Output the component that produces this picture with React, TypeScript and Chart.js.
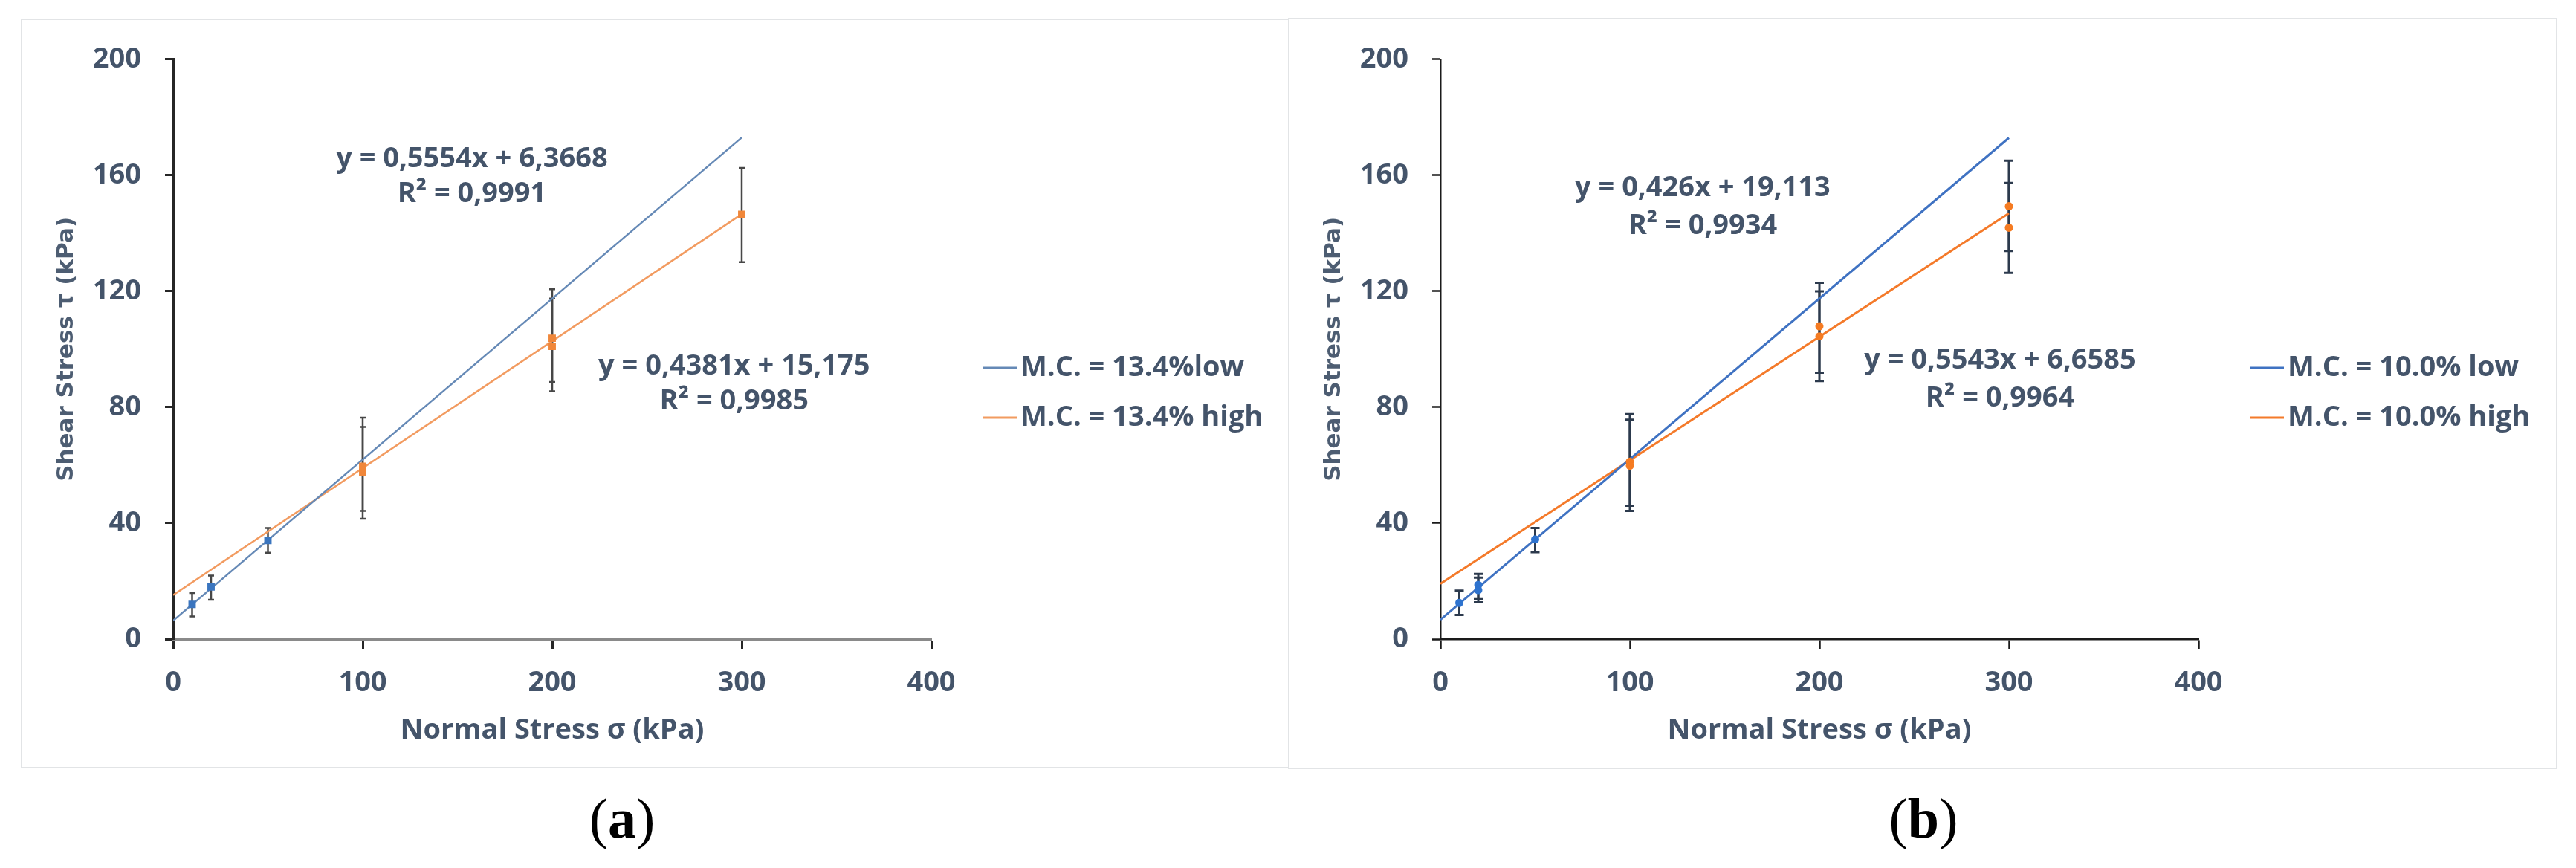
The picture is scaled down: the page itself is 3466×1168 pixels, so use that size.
import React, { useEffect, useRef } from 'react';
import { Chart, registerables } from 'chart.js';

Chart.register(...registerables);

// ---------------- Panel (a) data : M.C. = 13.4% ----------------
const A_LOW_NAME = 'M.C. = 13.4%low';
const A_HIGH_NAME = 'M.C. = 13.4% high';
const A_LOW_X = [10, 20, 50];
const A_LOW_Y = [12.0, 18.0, 34.0];
const A_LOW_MIN = [7.8, 13.6, 29.8];
const A_LOW_MAX = [15.9, 21.9, 38.3];
const A_HIGH_X = [100, 100, 200, 200, 300];
const A_HIGH_Y = [59.6, 57.4, 103.8, 101.0, 146.5];
const A_HIGH_MIN = [44.2, 41.5, 88.7, 85.5, 130.0];
const A_HIGH_MAX = [76.4, 73.2, 120.7, 117.5, 162.5];
const A_LOW_TREND_X = [0, 300];
const A_LOW_TREND_Y = [6.4, 173.0];
const A_HIGH_TREND_X = [0, 300];
const A_HIGH_TREND_Y = [15.2, 146.6];
const A_EQUATIONS = ['y = 0,5554x + 6,3668', 'y = 0,4381x + 15,175'];
const A_R2 = ['R² = 0,9991', 'R² = 0,9985'];

// ---------------- Panel (b) data : M.C. = 10.0% ----------------
const B_LOW_NAME = 'M.C. = 10.0% low';
const B_HIGH_NAME = 'M.C. = 10.0% high';
const B_LOW_X = [10, 20, 20, 50];
const B_LOW_Y = [12.5, 18.7, 16.9, 34.4];
const B_LOW_MIN = [8.3, 13.8, 12.7, 30.0];
const B_LOW_MAX = [16.7, 22.5, 21.2, 38.3];
const B_HIGH_X = [100, 100, 200, 200, 300, 300];
const B_HIGH_Y = [61.2, 59.8, 107.9, 104.4, 149.3, 141.9];
const B_HIGH_MIN = [46.0, 44.2, 91.9, 89.0, 133.9, 126.3];
const B_HIGH_MAX = [77.6, 75.7, 122.9, 120.0, 165.0, 157.3];
const B_LOW_TREND_X = [0, 300];
const B_LOW_TREND_Y = [6.7, 172.9];
const B_HIGH_TREND_X = [0, 300];
const B_HIGH_TREND_Y = [19.1, 146.9];
const B_EQUATIONS = ['y = 0,426x + 19,113', 'y = 0,5543x + 6,6585'];
const B_R2 = ['R² = 0,9934', 'R² = 0,9964'];

// axes
const X_TITLE = 'Normal Stress σ (kPa)';
const Y_TITLE = 'Shear Stress τ (kPa)';
const X_MIN = 0, X_MAX = 400, X_STEP = 100;
const Y_MIN = 0, Y_MAX = 200, Y_STEP = 40;

const TEXT = '#44546A';
const FONT = "'Open Sans', 'Noto Sans', sans-serif";
const FSIZE = 38;

const CW = 1706;
const CH = 1008;

const pts = (xs: number[], ys: number[], mins?: number[], maxs?: number[]) =>
  xs.map((x, i) => ({ x, y: ys[i], yMin: mins ? mins[i] : undefined, yMax: maxs ? maxs[i] : undefined }));

const errorBarPlugin = {
  id: 'errorBars',
  beforeDatasetsDraw(chart: any, _a: any, opts: any) {
    const { ctx } = chart;
    const xs = chart.scales.x;
    const ys = chart.scales.y;
    ctx.save();
    ctx.strokeStyle = opts.color;
    ctx.lineWidth = opts.width;
    ctx.lineCap = 'butt';
    chart.data.datasets.forEach((ds: any) => {
      if (!ds.errorBars) return;
      ds.data.forEach((p: any) => {
        const px = xs.getPixelForValue(p.x);
        const t = ys.getPixelForValue(p.yMax);
        const b = ys.getPixelForValue(p.yMin);
        ctx.beginPath();
        ctx.moveTo(px, t);
        ctx.lineTo(px, b);
        ctx.moveTo(px - opts.cap, t);
        ctx.lineTo(px + opts.cap, t);
        ctx.moveTo(px - opts.cap, b);
        ctx.lineTo(px + opts.cap, b);
        ctx.stroke();
      });
    });
    ctx.restore();
  },
};

const labelPlugin = {
  id: 'trendLabels',
  afterDatasetsDraw(chart: any, _a: any, opts: any) {
    const { ctx } = chart;
    const xs = chart.scales.x;
    const ys = chart.scales.y;
    ctx.save();
    ctx.fillStyle = opts.color;
    ctx.font = opts.font;
    ctx.textAlign = 'center';
    ctx.textBaseline = 'middle';
    opts.items.forEach((it: any) => {
      ctx.fillText(it.text, xs.getPixelForValue(it.x), ys.getPixelForValue(it.y));
    });
    ctx.restore();
  },
};

const sideLegendPlugin = {
  id: 'sideLegend',
  afterDraw(chart: any, _a: any, opts: any) {
    const { ctx, chartArea } = chart;
    const items = chart.data.datasets.filter((d: any) => d.inLegend);
    ctx.save();
    ctx.font = opts.font;
    ctx.textBaseline = 'middle';
    ctx.textAlign = 'left';
    items.forEach((d: any, i: number) => {
      const y = opts.y + i * opts.dy;
      const x0 = chartArea.right + opts.offset;
      ctx.strokeStyle = d.borderColor;
      ctx.lineWidth = opts.lineWidth;
      ctx.beginPath();
      ctx.moveTo(x0, y);
      ctx.lineTo(x0 + opts.lineLen, y);
      ctx.stroke();
      ctx.fillStyle = opts.color;
      ctx.fillText(d.label, x0 + opts.lineLen + opts.gap, y);
    });
    ctx.restore();
  },
};

type Style = {
  lowLine: string; highLine: string; lineWidth: number;
  lowPoint: string; highPoint: string; pointStyle: string; pointRadius: number;
  errColor: string; errWidth: number; errCap: number;
  xBorder: string; xBorderWidth: number; yBorder: string; yBorderWidth: number;
  tickColor: string; tickWidth: number;
};

type Spec = {
  lowName: string; highName: string;
  low: any[]; high: any[]; lowTrend: any[]; highTrend: any[];
  labels: { text: string; x: number; y: number }[];
  style: Style;
};

function buildConfig(spec: Spec): any {
  const s = spec.style;
  const tickFont = { family: FONT, size: FSIZE, weight: 'bold' as any };
  return {
    type: 'scatter',
    data: {
      datasets: [
        {
          label: spec.lowName + ' data', data: spec.low, errorBars: true,
          pointStyle: s.pointStyle, pointRadius: s.pointRadius, pointBackgroundColor: s.lowPoint,
          pointBorderColor: s.lowPoint, pointBorderWidth: 0, showLine: false, order: 1,
        },
        {
          label: spec.highName + ' data', data: spec.high, errorBars: true,
          pointStyle: s.pointStyle, pointRadius: s.pointRadius, pointBackgroundColor: s.highPoint,
          pointBorderColor: s.highPoint, pointBorderWidth: 0, showLine: false, order: 1,
        },
        {
          label: spec.lowName, data: spec.lowTrend, inLegend: true, showLine: true,
          borderColor: s.lowLine, borderWidth: s.lineWidth, pointRadius: 0, order: 2,
        },
        {
          label: spec.highName, data: spec.highTrend, inLegend: true, showLine: true,
          borderColor: s.highLine, borderWidth: s.lineWidth, pointRadius: 0, order: 2,
        },
      ],
    },
    options: {
      animation: false,
      responsive: false,
      maintainAspectRatio: false,
      devicePixelRatio: 1,
      layout: { padding: { left: 0, right: CW - 1225, top: 35, bottom: CH - 835 - 146.4 } },
      plugins: {
        legend: { display: false },
        tooltip: { enabled: false },
        errorBars: { color: s.errColor, width: s.errWidth, cap: s.errCap },
        trendLabels: { items: spec.labels, color: TEXT, font: `bold ${FSIZE}px ${FONT}` },
        sideLegend: {
          font: `bold ${FSIZE}px ${FONT}`, color: TEXT, y: 470, dy: 67, offset: 69, lineLen: 46, gap: 5,
          lineWidth: 3,
        },
      },
      scales: {
        x: {
          type: 'linear', min: X_MIN, max: X_MAX,
          ticks: { stepSize: X_STEP, padding: 23, color: TEXT, font: tickFont },
          grid: {
            drawOnChartArea: false, drawTicks: true, tickLength: 13,
            color: s.tickColor, tickColor: s.tickColor, tickWidth: s.tickWidth,
          },
          border: { display: true, color: s.xBorder, width: s.xBorderWidth },
          title: {
            display: true, text: X_TITLE, color: TEXT,
            font: { family: FONT, size: FSIZE, weight: 'bold' as any }, padding: { top: 0, bottom: 0 },
          },
          afterFit: (sc: any) => { sc.height = 146.4; },
        },
        y: {
          type: 'linear', min: Y_MIN, max: Y_MAX,
          ticks: { stepSize: Y_STEP, padding: 32, color: TEXT, font: tickFont },
          grid: {
            drawOnChartArea: false, drawTicks: true, tickLength: 11,
            color: s.tickColor, tickColor: s.tickColor, tickWidth: s.tickWidth,
          },
          border: { display: true, color: s.yBorder, width: s.yBorderWidth },
          title: {
            display: true, text: Y_TITLE, color: '#4d5d72',
            font: { family: "'DejaVu Sans', sans-serif", size: 31, weight: 'bold' as any },
            padding: { top: 43, bottom: 0 },
          },
          afterFit: (sc: any) => { sc.width = 205; },
        },
      },
    },
    plugins: [errorBarPlugin, labelPlugin, sideLegendPlugin],
  };
}

const SPEC_A: Spec = {
  lowName: A_LOW_NAME,
  highName: A_HIGH_NAME,
  low: pts(A_LOW_X, A_LOW_Y, A_LOW_MIN, A_LOW_MAX),
  high: pts(A_HIGH_X, A_HIGH_Y, A_HIGH_MIN, A_HIGH_MAX),
  lowTrend: pts(A_LOW_TREND_X, A_LOW_TREND_Y),
  highTrend: pts(A_HIGH_TREND_X, A_HIGH_TREND_Y),
  labels: [
    { text: A_EQUATIONS[0], x: 157.6, y: 165.5 },
    { text: A_R2[0], x: 157.6, y: 153.5 },
    { text: A_EQUATIONS[1], x: 296, y: 94 },
    { text: A_R2[1], x: 296, y: 82 },
  ],
  style: {
    lowLine: '#6589b6', highLine: '#f29b60', lineWidth: 2.5,
    lowPoint: '#3a75bf', highPoint: '#f0873a', pointStyle: 'rect', pointRadius: 7,
    errColor: '#474747', errWidth: 2.5, errCap: 4,
    xBorder: '#8a8a8a', xBorderWidth: 5, yBorder: '#262626', yBorderWidth: 3,
    tickColor: '#262626', tickWidth: 3,
  },
};

const SPEC_B: Spec = {
  lowName: B_LOW_NAME,
  highName: B_HIGH_NAME,
  low: pts(B_LOW_X, B_LOW_Y, B_LOW_MIN, B_LOW_MAX),
  high: pts(B_HIGH_X, B_HIGH_Y, B_HIGH_MIN, B_HIGH_MAX),
  lowTrend: pts(B_LOW_TREND_X, B_LOW_TREND_Y),
  highTrend: pts(B_HIGH_TREND_X, B_HIGH_TREND_Y),
  labels: [
    { text: B_EQUATIONS[0], x: 138.4, y: 155.5 },
    { text: B_R2[0], x: 138.4, y: 142.5 },
    { text: B_EQUATIONS[1], x: 295.3, y: 96 },
    { text: B_R2[1], x: 295.3, y: 83 },
  ],
  style: {
    lowLine: '#3f72c2', highLine: '#f47a2a', lineWidth: 3,
    lowPoint: '#2e73cf', highPoint: '#f57b22', pointStyle: 'circle', pointRadius: 5.5,
    errColor: '#2c3a4d', errWidth: 3, errCap: 6,
    xBorder: '#1a1a1a', xBorderWidth: 2.5, yBorder: '#1a1a1a', yBorderWidth: 2.5,
    tickColor: '#1a1a1a', tickWidth: 2.5,
  },
};

function Panel({ spec, left, top }: { spec: Spec; left: number; top: number }) {
  const ref = useRef<HTMLCanvasElement | null>(null);
  useEffect(() => {
    if (!ref.current) return;
    const chart = new Chart(ref.current, buildConfig(spec));
    return () => chart.destroy();
  }, [spec]);
  return (
    <canvas
      ref={ref}
      width={CW}
      height={CH}
      style={{ position: 'absolute', left, top, width: CW, height: CH }}
    />
  );
}

export default function App() {
  useEffect(() => {
    document.body.style.margin = '0';
    document.body.style.background = '#ffffff';
  }, []);
  const frame = { position: 'absolute' as const, boxSizing: 'border-box' as const, border: '2px solid #e2e4e6' };
  const cap = {
    position: 'absolute' as const,
    fontFamily: "'Liberation Serif', 'DejaVu Serif', serif",
    fontSize: 76,
    lineHeight: '76px',
    color: '#000',
    transform: 'translate(-50%, -50%)',
    whiteSpace: 'nowrap' as const,
  };
  return (
    <div style={{ position: 'relative', width: 3466, height: 1168, overflow: 'hidden', background: '#fff' }}>
      <div style={{ ...frame, left: 28, top: 25, width: 1707, height: 1009 }} />
      <div style={{ ...frame, left: 1733, top: 24, width: 1708, height: 1011 }} />
      <Panel spec={SPEC_A} left={28} top={25} />
      <Panel spec={SPEC_B} left={1733} top={25} />
      <div style={{ ...cap, left: 837, top: 1101 }}>(<b>a</b>)</div>
      <div style={{ ...cap, left: 2588, top: 1101 }}>(<b>b</b>)</div>
    </div>
  );
}
